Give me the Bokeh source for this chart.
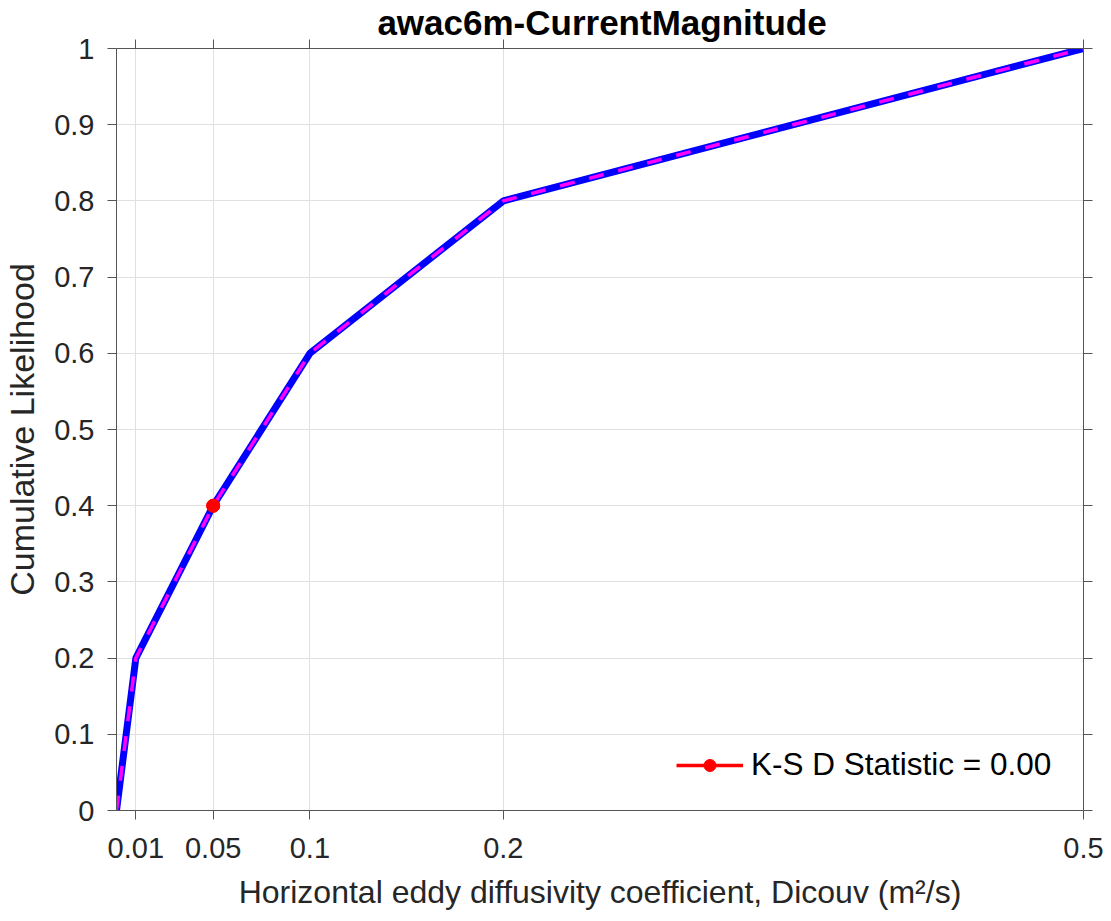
from bokeh.plotting import figure
from bokeh.models import FixedTicker, LinearAxis, Label, Legend, LegendItem, Range1d
from bokeh.embed import file_html
from bokeh.resources import INLINE

# ---------------- data ----------------
x_vals = [0.0, 0.01, 0.05, 0.1, 0.2, 0.5]
cdf_model = [0.0, 0.2, 0.4, 0.6, 0.8, 1.0]
cdf_obs = [0.0, 0.2, 0.4, 0.6, 0.8, 1.0]
ks_x = [0.05, 0.05]
ks_y = [0.4, 0.4]
x_ticks = [0.01, 0.05, 0.1, 0.2, 0.5]
x_tick_labels = ["0.01", "0.05", "0.1", "0.2", "0.5"]
y_ticks = [0.0, 0.1, 0.2, 0.3, 0.4, 0.5, 0.6, 0.7, 0.8, 0.9, 1.0]
y_tick_labels = ["0", "0.1", "0.2", "0.3", "0.4", "0.5", "0.6", "0.7", "0.8", "0.9", "1"]
title_text = "awac6m-CurrentMagnitude"
ylabel_text = "Cumulative Likelihood"
xlabel_text = "Horizontal eddy diffusivity coefficient, Dicouv (m\u00b2/s)"
legend_text = "K-S D Statistic = 0.00"

FONT = "Liberation Sans"
TXT = "#262626"
AX = "#555555"

p = figure(width=1108, height=921, x_range=Range1d(0, 0.5), y_range=Range1d(0, 1),
           output_backend="svg", toolbar_location=None,
           min_border_left=116, min_border_right=25, min_border_top=46, min_border_bottom=111,
           background_fill_color="white", border_fill_color="white")
p.outline_line_color = None

xt = FixedTicker(ticks=x_ticks)
yt = FixedTicker(ticks=y_ticks)


def style_axis(ax, ticker, labels=None, standoff=13):
    ax.ticker = ticker
    ax.axis_line_color = AX
    ax.axis_line_width = 1
    ax.major_tick_line_color = AX
    ax.major_tick_in = 0
    ax.major_tick_out = 9
    ax.minor_tick_line_color = None
    if labels is None:
        ax.major_label_overrides = {t: "" for t in ticker.ticks}
        ax.major_label_text_font_size = "10px"
        ax.major_label_standoff = 0
    else:
        ax.major_label_overrides = labels
        ax.major_label_text_font = FONT
        ax.major_label_text_font_size = "29px"
        ax.major_label_text_color = TXT
        ax.major_label_standoff = standoff


def style_label(ax, lab, fsz, st):
    ax.axis_label = lab
    ax.axis_label_text_font = FONT
    ax.axis_label_text_font_size = fsz
    ax.axis_label_text_font_style = "normal"
    ax.axis_label_text_color = TXT
    ax.axis_label_standoff = st


style_axis(p.xaxis[0], xt, {t: s for t, s in zip(x_ticks, x_tick_labels)}, standoff=18)
style_axis(p.yaxis[0], yt, {t: s for t, s in zip(y_ticks, y_tick_labels)}, standoff=13)
style_label(p.yaxis[0], ylabel_text, "34px", 10)
style_label(p.xaxis[0], xlabel_text, "32px", 13)

top_ax = LinearAxis()
style_axis(top_ax, xt)
p.add_layout(top_ax, "above")
right_ax = LinearAxis()
style_axis(right_ax, yt)
p.add_layout(right_ax, "right")

p.xgrid.ticker = xt
p.ygrid.ticker = yt
p.xgrid.grid_line_color = "#e0e0e0"
p.ygrid.grid_line_color = "#e0e0e0"

p.line(x_vals, cdf_model, line_color="#0000ff", line_width=7)
p.line(x_vals, cdf_obs, line_color="#ff00ff", line_width=3.5, line_dash="15 15")
r_ks = p.line(ks_x, ks_y, line_color="#ff0000", line_width=3.5)
r_dot = p.scatter(ks_x, ks_y, size=13, fill_color="#ff0000", line_color="#ff0000")

legend = Legend(items=[LegendItem(label=legend_text, renderers=[r_ks, r_dot])],
                location=(560, 27), border_line_color=None, background_fill_alpha=0,
                label_text_font=FONT, label_text_font_size="31.5px", label_text_color="#000000",
                glyph_width=67, glyph_height=30, label_height=30, label_standoff=8,
                margin=0, padding=0)
p.add_layout(legend, "center")

# title (placed in the top panel so that it is not clipped by the frame)
p.add_layout(Label(x=0.25, y=1.0, text=title_text, text_align="center", text_baseline="alphabetic",
                   y_offset=26, x_offset=2, text_font=FONT, text_font_style="bold",
                   text_font_size="35px", text_color="#000000"), "above")

open("out.html", "w").write(file_html(p, INLINE))
